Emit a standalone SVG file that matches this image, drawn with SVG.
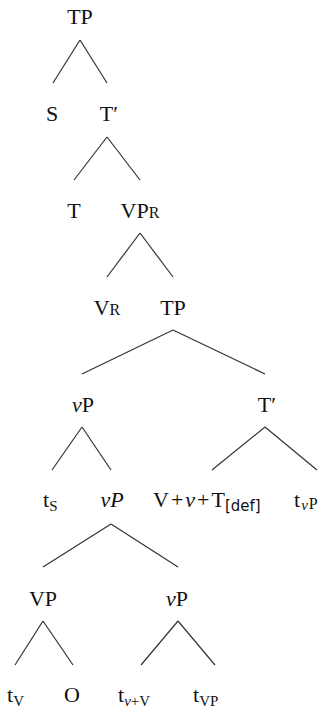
<svg xmlns="http://www.w3.org/2000/svg" width="331" height="709" viewBox="0 0 331 709">
<style>
text{font-family:"Liberation Serif","DejaVu Serif",serif;font-size:22px;fill:#111}
.m{text-anchor:middle}
.sc{font-size:16px}
.sub{font-size:15px}
.i{font-style:italic}
#edges line{stroke:#333;stroke-width:1.2;fill:none}
</style>
<rect width="331" height="709" fill="#fff"/>
<g id="edges">
<line x1="80" y1="40" x2="53" y2="83"/><line x1="80" y1="40" x2="107" y2="83"/>
<line x1="107" y1="137" x2="74" y2="180"/><line x1="107" y1="137" x2="140" y2="180"/>
<line x1="140" y1="233" x2="107" y2="277"/><line x1="140" y1="233" x2="173" y2="277"/>
<line x1="173" y1="330" x2="82" y2="374"/><line x1="173" y1="330" x2="265" y2="374"/>
<line x1="82" y1="427" x2="52" y2="470"/><line x1="82" y1="427" x2="111" y2="470"/>
<line x1="265" y1="427" x2="212" y2="470"/><line x1="265" y1="427" x2="317" y2="470"/>
<line x1="111" y1="524" x2="43" y2="567"/><line x1="111" y1="524" x2="178" y2="567"/>
<line x1="43" y1="621" x2="15" y2="665"/><line x1="43" y1="621" x2="73" y2="665"/>
<line x1="178" y1="621" x2="141" y2="665"/><line x1="178" y1="621" x2="215" y2="665"/>
</g>
<g id="n-tp1"><text class="m" x="80" y="24">TP</text></g>
<g id="n-s"><text class="m" x="52" y="121">S</text></g>
<g id="n-tbar1"><text class="m" x="109" y="121">T′</text></g>
<g id="n-t"><text class="m" x="74" y="218">T</text></g>
<g id="n-vpr"><text class="m" x="140" y="218">VP<tspan class="sc">R</tspan></text></g>
<g id="n-vr"><text class="m" x="107" y="315">V<tspan class="sc">R</tspan></text></g>
<g id="n-tp2"><text class="m" x="173" y="315">TP</text></g>
<g id="n-vp1"><text class="m" x="83" y="412"><tspan class="i">v</tspan>P</text></g>
<g id="n-tbar2"><text class="m" x="267" y="412">T′</text></g>
<g id="n-ts"><text x="43" y="507">t<tspan class="sub" dy="4">S</tspan></text></g>
<g id="n-vp2"><text class="m i" x="112" y="507">vP</text></g>
<g id="n-vvt"><text x="153" y="507">V<tspan dx="2">+</tspan><tspan class="i" dx="2">v</tspan><tspan dx="2">+</tspan><tspan dx="2">T</tspan><tspan class="sub" dy="4" font-family="'DejaVu Sans',sans-serif">[def]</tspan></text></g>
<g id="n-tvp1"><text x="294" y="507">t<tspan class="sub i" dx="1" dy="3">v</tspan><tspan class="sc" dx="1" dy="-1">P</tspan></text></g>
<g id="n-vp3"><text class="m" x="43" y="606">VP</text></g>
<g id="n-vp4"><text class="m" x="177" y="606"><tspan class="i">v</tspan>P</text></g>
<g id="n-tv"><text x="7" y="702">t<tspan class="sub" dy="4">V</tspan></text></g>
<g id="n-o"><text class="m" x="72" y="702">O</text></g>
<g id="n-tvv"><text x="118" y="702">t<tspan class="sub" dy="4"><tspan class="i">v</tspan>+V</tspan></text></g>
<g id="n-tvp2"><text x="193" y="702">t<tspan class="sub" dy="4">VP</tspan></text></g>
</svg>
